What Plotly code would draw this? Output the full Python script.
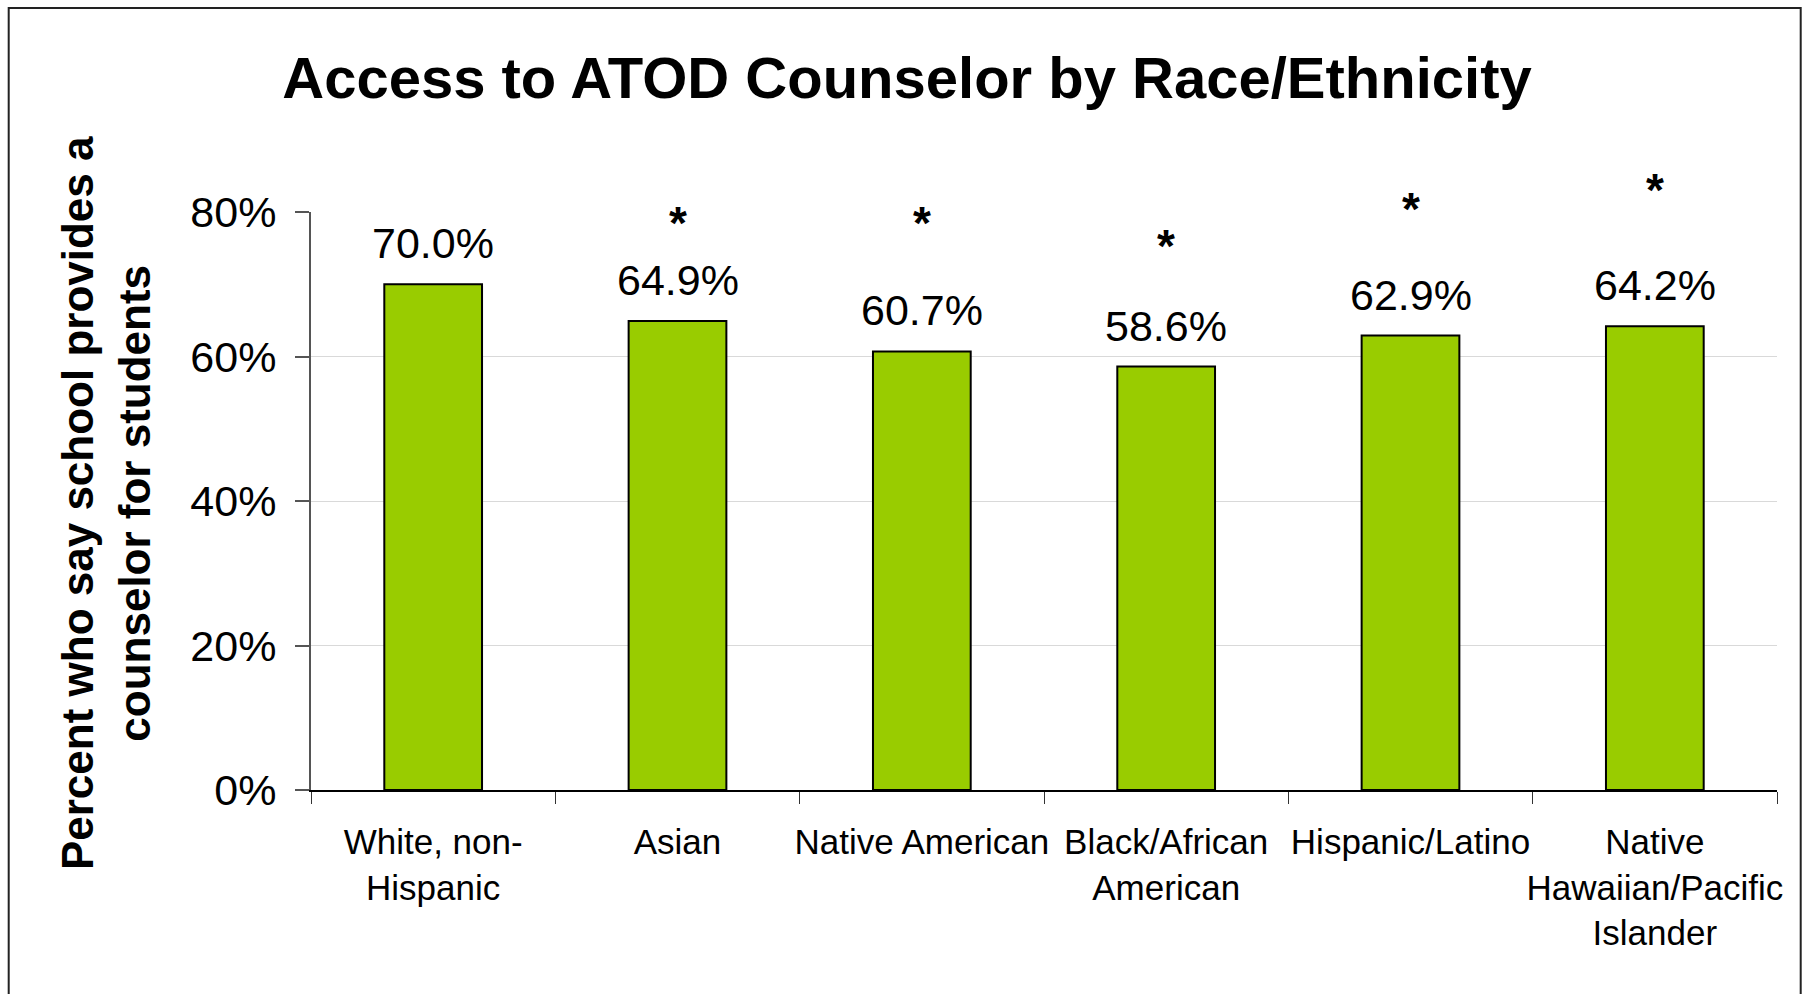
import plotly.graph_objects as go

categories = ["White, non-<br>Hispanic", "Asian", "Native American",
              "Black/African<br>American", "Hispanic/Latino",
              "Native<br>Hawaiian/Pacific<br>Islander"]
values = [70.0, 64.9, 60.7, 58.6, 62.9, 64.2]
value_labels = ["70.0%", "64.9%", "60.7%", "58.6%", "62.9%", "64.2%"]
# significance markers (asterisk) and their heights (in % units)
sig_marks = ["", "*", "*", "*", "*", "*"]
sig_heights = [0, 79.9, 79.9, 76.7, 81.8, 84.4]
y_ticks = [0, 20, 40, 60, 80]
y_tick_labels = ["0%", "20%", "40%", "60%", "80%"]
Y_MAX = 80

W, H = 1807, 994
ML, MR, MT, MB = 311, 30, 212, 204
PW = W - ML - MR
PH = H - MT - MB

def px_x(p):
    return (p - ML) / PW

def px_y(p):
    return (H - MB - p) / PH

FONT = "Liberation Sans, Arial, sans-serif"

fig = go.Figure()
fig.add_trace(go.Bar(
    x=list(range(len(categories))), y=values, width=0.4,
    marker=dict(color="#99cc00", line=dict(color="black", width=2)),
    hoverinfo="skip",
))

annotations = []
for i, (v, lab) in enumerate(zip(values, value_labels)):
    annotations.append(dict(x=i, y=v, xref="x", yref="y", text=lab,
                            showarrow=False, yanchor="middle", yshift=41,
                            font=dict(family=FONT, size=43, color="black")))
for i, (m, h) in enumerate(zip(sig_marks, sig_heights)):
    if m:
        annotations.append(dict(x=i, y=h / Y_MAX, xref="x", yref="y domain",
                                text="<b>" + m + "</b>",
                                showarrow=False, yanchor="middle", yshift=-10,
                                font=dict(family=FONT, size=46, color="black")))
annotations.append(dict(
    x=px_x(105.5), y=px_y(503.6), xref="paper", yref="paper",
    text="<b>Percent who say school provides a<br>counselor for students</b>",
    textangle=-90, showarrow=False, xanchor="center", yanchor="middle",
    font=dict(family=FONT, size=44, color="black")))

fig.update_layout(
    width=W, height=H,
    margin=dict(l=ML, r=MR, t=MT, b=MB, pad=0),
    paper_bgcolor="white", plot_bgcolor="white",
    showlegend=False,
    title=dict(text="<b>Access to ATOD Counselor by Race/Ethnicity</b>",
               x=907 / W, xanchor="center", xref="container",
               y=1 - 78 / H, yanchor="middle", yref="container",
               font=dict(family=FONT, size=58, color="black")),
    annotations=annotations,
    shapes=[dict(type="path", xref="paper", yref="paper",
                 path=f"M {px_x(8.7)} {px_y(1100)} L {px_x(8.7)} {px_y(8)} "
                      f"L {px_x(1800.7)} {px_y(8)} L {px_x(1800.7)} {px_y(1100)}",
                 line=dict(color="#222222", width=2))],
    font=dict(family=FONT, color="black"),
)

fig.update_xaxes(
    type="linear", range=[-0.5, len(categories) - 0.5],
    tickmode="array", tickvals=list(range(len(categories))), ticktext=categories,
    tickangle=0, showgrid=False, zeroline=False,
    showline=True, linecolor="black", linewidth=2,
    ticks="", tickfont=dict(family=FONT, size=35, color="black"),
    ticklabelstandoff=20,
)
# boundary ticks via minor ticks
fig.update_xaxes(minor=dict(tickmode="array",
                            tickvals=[i - 0.5 for i in range(len(categories) + 1)],
                            ticks="outside", ticklen=12, tickcolor="#333333",
                            tickwidth=1, showgrid=False))

fig.update_yaxes(
    range=[0, Y_MAX], tickmode="array", tickvals=y_ticks, ticktext=y_tick_labels,
    showgrid=True, gridcolor="#d9d9d9", gridwidth=1,
    zeroline=False, showline=True, linecolor="#555555", linewidth=2,
    ticks="outside", ticklen=14, tickcolor="#555555", tickwidth=2,
    tickfont=dict(family=FONT, size=43, color="black"),
    ticklabelstandoff=10,
)

fig.write_html("out.html")
